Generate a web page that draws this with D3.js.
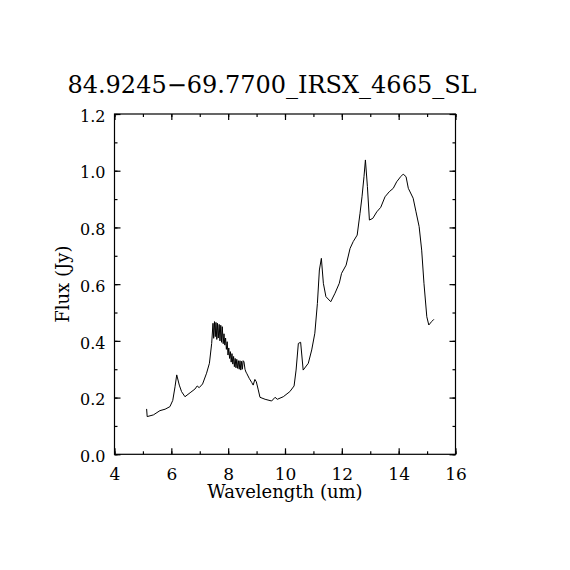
<!DOCTYPE html>
<html>
<head>
<meta charset="utf-8">
<script src="https://d3js.org/d3.v7.min.js"></script>
<style>
  html, body { margin: 0; background: #fff; overflow: hidden; }
  svg { display: block; }
  text { font-family: "DejaVu Serif", "Liberation Serif", serif; fill: #000; }
</style>
</head>
<body>
<div id="plot"></div>
<script>
// spectrum
const wavelength = [5.13, 5.15, 5.37, 5.60, 5.78, 5.95, 6.05, 6.13, 6.19, 6.28, 6.36, 6.48, 6.66, 6.83, 6.91, 6.98, 7.10, 7.24, 7.34, 7.42,
  7.466, 7.490, 7.519, 7.547, 7.571, 7.600, 7.624, 7.652, 7.684, 7.712, 7.740, 7.768, 7.793, 7.825, 7.853, 7.881, 7.909, 7.937,
  7.966, 7.994, 8.022, 8.050, 8.078, 8.106, 8.134, 8.163, 8.191, 8.219, 8.247, 8.275, 8.303, 8.331, 8.360, 8.388, 8.416, 8.444,
  8.472, 8.500, 8.528, 8.557, 8.592, 8.627,
  8.65, 8.74, 8.83, 8.88, 8.94, 8.99, 9.06, 9.12, 9.30, 9.53, 9.65, 9.73, 9.94, 10.17, 10.32, 10.39, 10.47, 10.55, 10.64,
  10.82, 10.94, 11.05, 11.14, 11.21, 11.28, 11.35, 11.44, 11.61, 11.76, 11.91, 11.99, 12.15, 12.29, 12.40, 12.54, 12.64,
  12.71, 12.78, 12.83, 12.90, 12.97, 13.09, 13.23, 13.37, 13.52, 13.67, 13.81, 13.93, 14.07, 14.16, 14.26, 14.34, 14.51,
  14.61, 14.72, 14.81, 14.89, 14.99, 15.06, 15.16, 15.24];
const flux = [0.160, 0.133, 0.139, 0.154, 0.159, 0.168, 0.190, 0.238, 0.280, 0.244, 0.221, 0.203, 0.217, 0.230, 0.241, 0.235, 0.248, 0.286, 0.321, 0.391,
  0.462, 0.409, 0.468, 0.415, 0.465, 0.405, 0.462, 0.410, 0.458, 0.400, 0.455, 0.395, 0.450, 0.390, 0.425, 0.385, 0.410, 0.370,
  0.397, 0.350, 0.375, 0.338, 0.362, 0.325, 0.355, 0.318, 0.345, 0.309, 0.338, 0.305, 0.335, 0.303, 0.330, 0.300, 0.330, 0.297,
  0.328, 0.300, 0.330, 0.326, 0.300, 0.290,
  0.286, 0.268, 0.253, 0.244, 0.264, 0.256, 0.227, 0.201, 0.194, 0.188, 0.201, 0.194, 0.203, 0.221, 0.241, 0.297, 0.391, 0.395, 0.297,
  0.321, 0.368, 0.427, 0.532, 0.650, 0.691, 0.603, 0.556, 0.538, 0.568, 0.603, 0.638, 0.667, 0.726, 0.750, 0.773, 0.850,
  0.908, 0.979, 1.038, 0.944, 0.826, 0.832, 0.855, 0.871, 0.908, 0.926, 0.938, 0.961, 0.979, 0.988, 0.979, 0.938, 0.903,
  0.855, 0.803, 0.720, 0.603, 0.485, 0.456, 0.468, 0.476];
const xTicks = [4, 6, 8, 10, 12, 14, 16];
const yTicks = [0.0, 0.2, 0.4, 0.6, 0.8, 1.0, 1.2];
const xMinor = d3.range(4, 16.01, 1);
const yMinor = d3.range(0, 1.201, 0.1);
const title = "84.9245\u221269.7700_IRSX_4665_SL";

const w = 570, h = 570;
const margin = {left: 114.5, top: 114, right: 114.5, bottom: 115.7};
const innerWidth = w - margin.left - margin.right;
const innerHeight = h - margin.top - margin.bottom;

const xScale = d3.scaleLinear().domain([4, 16]).range([0, innerWidth]);
const yScale = d3.scaleLinear().domain([0, 1.2]).range([innerHeight, 0]);

const data = wavelength.map((x, i) => ({x: x, y: flux[i]}));

const svg = d3.select("div#plot")
  .append("svg")
  .attr("width", w)
  .attr("height", h);

const plot = svg.append("g")
  .attr("id", "plotarea")
  .attr("transform", `translate(${margin.left}, ${margin.top})`);

// frame
plot.append("rect")
  .attr("width", innerWidth)
  .attr("height", innerHeight)
  .attr("fill", "none")
  .attr("stroke", "#000")
  .attr("stroke-width", 1.2);

// inward ticks on all four sides (minor groups carry no labels)
function ticksOnly(g) {
  g.select(".domain").remove();
  g.selectAll("text").remove();
}

const fmtY = d3.format(".1f");
plot.append("g").attr("id", "xaxis")
  .attr("transform", `translate(0, ${innerHeight})`)
  .call(d3.axisBottom(xScale).tickValues(xTicks).tickSize(-6).tickPadding(14).tickFormat(d3.format("d")))
  .call(g => g.select(".domain").remove());
plot.append("g").attr("class", "minor")
  .attr("transform", `translate(0, ${innerHeight})`)
  .call(d3.axisBottom(xScale).tickValues(xMinor).tickSize(-3))
  .call(ticksOnly);
plot.append("g").attr("class", "minor")
  .call(d3.axisTop(xScale).tickValues(xTicks).tickSize(-6))
  .call(ticksOnly);
plot.append("g").attr("class", "minor")
  .call(d3.axisTop(xScale).tickValues(xMinor).tickSize(-3))
  .call(ticksOnly);

plot.append("g").attr("id", "yaxis")
  .call(d3.axisLeft(yScale).tickValues(yTicks).tickSize(-6).tickPadding(9).tickFormat(fmtY))
  .call(g => g.select(".domain").remove());
plot.append("g").attr("class", "minor")
  .call(d3.axisLeft(yScale).tickValues(yMinor).tickSize(-3))
  .call(ticksOnly);
plot.append("g").attr("class", "minor")
  .attr("transform", `translate(${innerWidth}, 0)`)
  .call(d3.axisRight(yScale).tickValues(yTicks).tickSize(-6))
  .call(ticksOnly);
plot.append("g").attr("class", "minor")
  .attr("transform", `translate(${innerWidth}, 0)`)
  .call(d3.axisRight(yScale).tickValues(yMinor).tickSize(-3))
  .call(ticksOnly);

plot.selectAll(".tick line").attr("stroke", "#000").attr("stroke-width", 1.2);
plot.select("#xaxis").selectAll("text")
  .style("font-family", "DejaVu Serif").style("font-size", "17px").attr("fill", "#000");
plot.select("#yaxis").selectAll("text")
  .style("font-family", "DejaVu Serif").style("font-size", "16px").attr("fill", "#000")
  .attr("dy", "0.45em");

// title
svg.append("text")
  .attr("x", 272)
  .attr("y", 93)
  .attr("text-anchor", "middle")
  .style("font-size", "24px")
  .text(title);

// x label
plot.append("text")
  .attr("x", innerWidth / 2)
  .attr("y", innerHeight + 44)
  .attr("text-anchor", "middle")
  .style("font-size", "18px")
  .text("Wavelength (um)");

// y label
plot.append("text")
  .attr("transform", `translate(-46, ${innerHeight / 2}) rotate(-90)`)
  .attr("text-anchor", "middle")
  .style("font-size", "18px")
  .text("Flux (Jy)");

// spectrum
plot.append("path")
  .datum(data)
  .attr("fill", "none")
  .attr("stroke", "#000")
  .attr("stroke-width", 1)
  .attr("d", d3.line().x(d => xScale(d.x)).y(d => yScale(d.y)));
</script>
</body>
</html>
